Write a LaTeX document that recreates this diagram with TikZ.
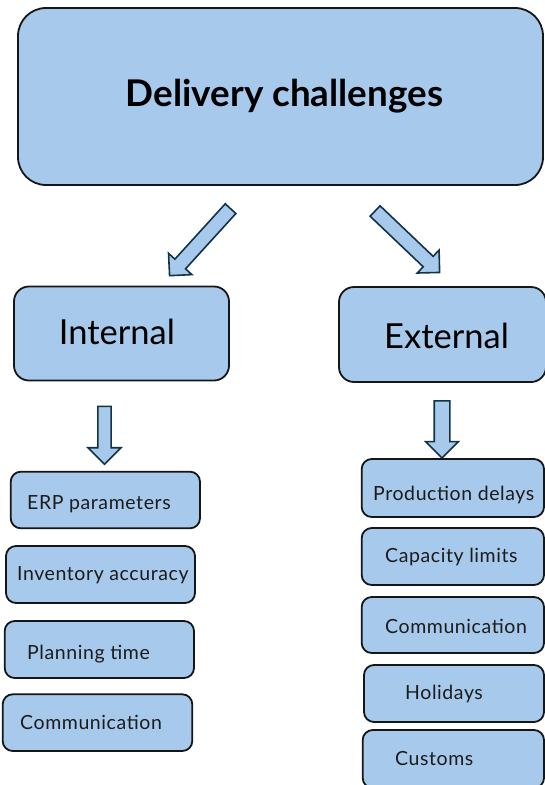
\documentclass[tikz,border=0pt]{standalone}
\usepackage{fontspec}
\setmainfont{Lato}
\usetikzlibrary{shapes.arrows}
\definecolor{boxfill}{RGB}{166,201,236}
\definecolor{boxline}{RGB}{22,22,22}
\definecolor{arrowline}{RGB}{20,50,70}
\definecolor{labeltext}{RGB}{28,28,28}
\begin{document}
\begin{tikzpicture}[x=1pt,y=-1pt,
  bigbox/.style={draw=boxline, fill=boxfill, line width=1.8pt, rounded corners=28pt, inner sep=0pt},
  midbox/.style={draw=boxline, fill=boxfill, line width=1.8pt, rounded corners=15pt, inner sep=0pt},
  itembox/.style={draw=boxline, fill=boxfill, line width=1.8pt, rounded corners=10pt, inner sep=0pt},
  titletext/.style={inner sep=0pt, anchor=base, font=\fontsize{36.8}{40}\selectfont\bfseries, text=black},
  headtext/.style={inner sep=0pt, anchor=base, font=\fontsize{34.5}{38}\selectfont, text=black},
  itemtext/.style={inner sep=0pt, anchor=base west, font=\fontsize{19.5}{22}\selectfont\addfontfeature{LetterSpace=3}, text=labeltext},
  blockarrow/.style={single arrow, draw=arrowline, fill=boxfill, line width=1.6pt,
    inner xsep=0pt, minimum width=0pt, single arrow tip angle=90}]
\useasboundingbox (0,0) rectangle (545,785);

% top level
\node[bigbox, minimum width=525pt, minimum height=177pt] (top) at (280.5,96.5) {};
\node[titletext] (toplbl) at (284.5,106) {Delivery challenges};

% block arrows to the two branches
\node[blockarrow, inner ysep=6.4pt, single arrow head extend=8.6pt,
      minimum height=90.6pt, rotate=227.7] (arrL) at (202.5,239.5) {};
\node[blockarrow, inner ysep=6.4pt, single arrow head extend=8.6pt,
      minimum height=89.1pt, rotate=-43.6] (arrR) at (404.75,239.25) {};

% branches
\node[midbox, minimum width=215pt, minimum height=94pt] (int) at (121.5,333.5) {};
\node[headtext] (intlbl) at (117,344) {Internal};
\node[midbox, minimum width=207pt, minimum height=95pt] (ext) at (442.5,334.5) {};
\node[headtext] (extlbl) at (446.5,348) {External};

% down arrows
\node[blockarrow, inner ysep=5.8pt, single arrow head extend=10pt,
      minimum height=58pt, rotate=-90] (downL) at (104.5,432) {};
\node[blockarrow, inner ysep=7pt, single arrow head extend=8.5pt,
      minimum height=57pt, rotate=-90] (downR) at (442,425.5) {};

% internal items
\node[itembox, minimum width=189.3pt, minimum height=56.6pt] (erp) at (105.35,500) {};
\node[itemtext] at (27,509) {ERP parameters};
\node[itembox, minimum width=189pt, minimum height=57pt] (inv) at (100.5,574.5) {};
\node[itemtext] at (17,580.7) {Inventory accuracy};
\node[itembox, minimum width=189.3pt, minimum height=57pt] (plan) at (99.35,649.5) {};
\node[itemtext] at (27,659.3) {Planning time};
\node[itembox, minimum width=189.6pt, minimum height=56.7pt] (commL) at (97.5,722.65) {};
\node[itemtext] at (20,729.3) {Communication};

% external items
\node[itembox, minimum width=182.3pt, minimum height=58pt] (prod) at (452.85,488) {};
\node[itemtext] at (373,500) {Production delays};
\node[itembox, minimum width=182.3pt, minimum height=57pt] (cap) at (452.85,556.5) {};
\node[itemtext] at (385,562) {Capacity limits};
\node[itembox, minimum width=182.3pt, minimum height=56pt] (commR) at (452.85,625) {};
\node[itemtext] at (385,633.3) {Communication};
\node[itembox, minimum width=180pt, minimum height=57pt] (hol) at (454,693.5) {};
\node[itemtext] at (405,699.3) {Holidays};
\node[itembox, minimum width=181.3pt, minimum height=58pt] (cust) at (453.35,759) {};
\node[itemtext] at (395,765) {Customs};
\end{tikzpicture}
\end{document}
